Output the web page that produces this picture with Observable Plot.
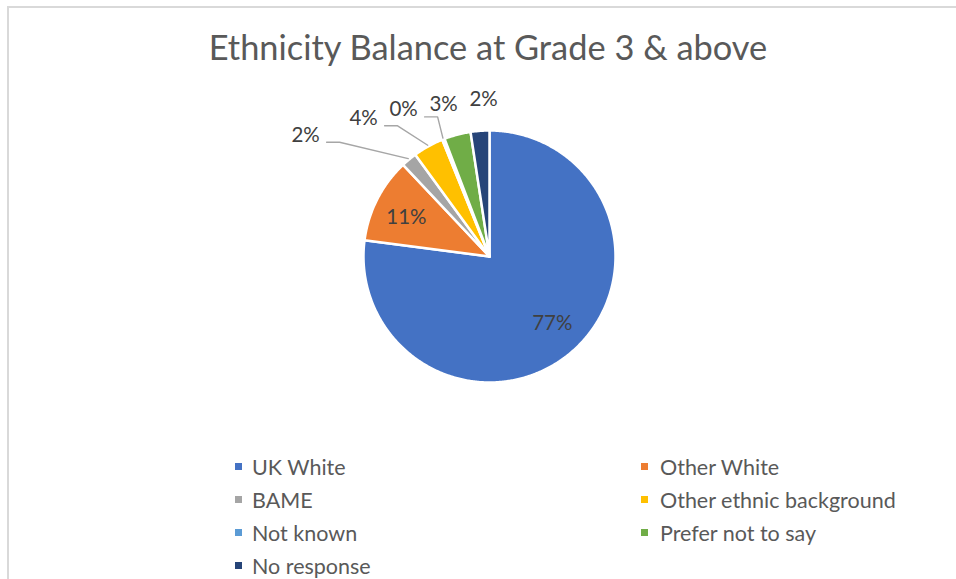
<!DOCTYPE html>
<html><head><meta charset="utf-8">
<script src="https://cdn.jsdelivr.net/npm/d3@7"></script>
<script src="https://cdn.jsdelivr.net/npm/@observablehq/plot@0.6"></script>
<style>
  body{margin:0;background:#fff;font-family:Lato,"Open Sans",sans-serif;}
  #page{position:relative;width:956px;height:579px;overflow:hidden;background:#fff;}
  #frame{position:absolute;left:7px;top:6px;width:1000px;height:700px;border-left:2px solid #d9d9d9;border-top:2px solid #d9d9d9;}
  #title{position:absolute;left:0;width:976px;top:27px;text-align:center;font-size:34.4px;line-height:40px;color:#595959;white-space:nowrap;}
  #chart{position:absolute;left:0;top:85px;}
  #legend{position:absolute;left:0;top:0;width:956px;height:579px;pointer-events:none;}
  .item{position:absolute;font-size:21.5px;line-height:24px;color:#595959;white-space:nowrap;}
  .sw{position:absolute;width:7px;height:7px;}
</style></head>
<body>
<div id="page">
  <div id="frame"></div>
  <div id="title"></div>
  <div id="chart"></div>
  <div id="legend"></div>
</div>
<script>
// ---- data ----
const title = "Ethnicity Balance at Grade 3 & above";
const categories = ["UK White","Other White","BAME","Other ethnic background","Not known","Prefer not to say","No response"];
const values = [76.9, 10.9, 2.0, 3.9, 0.3, 3.4, 2.4];
const colors = ["#4472C4","#ED7D31","#A5A5A5","#FFC000","#5B9BD5","#70AD47","#264478"];

// ---- layout ----
const W = 956, H = 350, SVG_TOP = 85;
const CX = 489, CY = 256, R = 126;          // pie centre / radius in page px
const PX = 1 / R;                           // one pixel in radius units
const cyS = CY - SVG_TOP;

document.getElementById("title").textContent = title;

const total = d3.sum(values);
const arcs = d3.pie().sort(null).value(d => d)(values);

// slice polygons
const slicePts = [];
arcs.forEach((a, i) => {
  const cat = categories[i];
  slicePts.push({cat, x: 0, y: 0});
  const n = Math.max(2, Math.ceil((a.endAngle - a.startAngle) / (Math.PI / 360)));
  for (let k = 0; k <= n; k++) {
    const t = a.startAngle + (a.endAngle - a.startAngle) * k / n;
    slicePts.push({cat, x: Math.sin(t), y: Math.cos(t)});
  }
});

// labels
const labels = arcs.map((a, i) => {
  const m = (a.startAngle + a.endAngle) / 2;
  const pct = values[i] / total * 100;
  const inside = pct >= 5;
  const r = inside ? 0.73 : 1.25;
  const mm = inside ? m - 0.03 : m;
  return {cat: categories[i], mid: m, inside, text: Math.round(pct) + "%",
          nx: r * Math.sin(mm), ny: r * Math.cos(mm), x: r * Math.sin(mm), y: r * Math.cos(mm)};
});
// push outside labels leftwards to avoid overlap (working counter-clockwise from the last)
const outside = labels.filter(d => !d.inside);
outside[outside.length - 1].x += 6 * PX;
for (let k = outside.length - 2; k >= 0; k--) {
  outside[k].x = Math.min(outside[k].nx, outside[k + 1].x - (k === 0 ? 58 : 40) * PX);
}
// leader lines for displaced labels
const leaders = [];
outside.forEach(d => {
  if (Math.abs(d.x - d.nx) < 7 * PX) return;
  const ex = 1.01 * Math.sin(d.mid), ey = 1.01 * Math.cos(d.mid);
  const qx = Math.min(d.x + 34 * PX, ex);
  const px = Math.min(d.x + 21 * PX, qx);
  const ly = d.y - 7 * PX;
  leaders.push({cat: d.cat, x: ex, y: ey});
  leaders.push({cat: d.cat, x: qx, y: ly});
  leaders.push({cat: d.cat, x: px, y: ly});
});

const chart = Plot.plot({
  width: W, height: H,
  margin: 0,
  x: {domain: [-CX / R, (W - CX) / R], range: [0, W], axis: null},
  y: {domain: [-(H - cyS) / R, cyS / R], range: [H, 0], axis: null},
  color: {domain: categories, range: colors},
  style: {background: "transparent", fontFamily: "Lato, 'Open Sans', sans-serif"},
  marks: [
    Plot.line(slicePts, {x: "x", y: "y", z: "cat", fill: "cat", stroke: "white", strokeWidth: 2.5, curve: "linear-closed"}),
    Plot.line(leaders, {x: "x", y: "y", z: "cat", stroke: "#a6a6a6", strokeWidth: 1.4}),
    Plot.text(labels, {x: "x", y: "y", text: "text", fontSize: 20.5, fill: "#404040"})
  ]
});
document.getElementById("chart").appendChild(chart);

// legend (two columns, Excel order)
const leg = document.getElementById("legend");
categories.forEach((c, i) => {
  const col = i % 2, row = Math.floor(i / 2);
  const top = 455 + row * 33;
  const sw = document.createElement("div");
  sw.className = "sw";
  sw.style.left = (col ? 641 : 235) + "px";
  sw.style.top = (top + 8) + "px";
  sw.style.background = colors[i];
  leg.appendChild(sw);
  const tx = document.createElement("div");
  tx.className = "item";
  tx.style.left = (col ? 660 : 252) + "px";
  tx.style.top = top + "px";
  tx.textContent = c;
  leg.appendChild(tx);
});
</script>
</body></html>
